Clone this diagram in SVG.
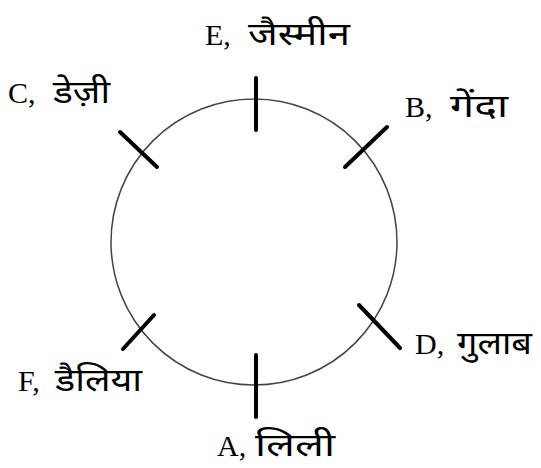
<svg xmlns="http://www.w3.org/2000/svg" width="541" height="468" viewBox="0 0 541 468">
<style>
.lat{font-family:"Liberation Serif","Times New Roman",serif;font-size:30px;fill:#000}
.hi{font-family:"Noto Sans Devanagari","Mangal","Noto Sans","DejaVu Sans",sans-serif;font-size:32px;fill:#000}
.tick{stroke:#000;stroke-width:4;stroke-linecap:round}
</style>
<rect width="541" height="468" fill="#fff"/>
<g id="connectors">
<circle cx="254" cy="242" r="143" fill="none" stroke="#444" stroke-width="1.5"/>
</g>
<g id="E"><line class="tick" x1="256" y1="78" x2="256" y2="130"/><text y="45"><tspan class="lat" x="205">E,</tspan><tspan class="hi" x="248" textLength="102" lengthAdjust="spacingAndGlyphs">जैस्मीन</tspan></text></g>
<g id="C"><line class="tick" x1="120" y1="132" x2="157" y2="167"/><text y="103"><tspan class="lat" x="8">C,</tspan><tspan class="hi" x="53" textLength="57" lengthAdjust="spacingAndGlyphs">डेज़ी</tspan></text></g>
<g id="B"><line class="tick" x1="387" y1="127" x2="345" y2="167"/><text y="117"><tspan class="lat" x="405">B,</tspan><tspan class="hi" x="450" textLength="58" lengthAdjust="spacingAndGlyphs">गेंदा</tspan></text></g>
<g id="F"><line class="tick" x1="154" y1="315" x2="123" y2="349"/><text y="391"><tspan class="lat" x="18">F,</tspan><tspan class="hi" x="55" textLength="87" lengthAdjust="spacingAndGlyphs">डैलिया</tspan></text></g>
<g id="D"><line class="tick" x1="359" y1="305" x2="400" y2="348"/><text y="354"><tspan class="lat" x="415">D,</tspan><tspan class="hi" x="457" textLength="75" lengthAdjust="spacingAndGlyphs">गुलाब</tspan></text></g>
<g id="A"><line class="tick" x1="256" y1="355" x2="256" y2="417"/><text y="456"><tspan class="lat" x="217">A,</tspan><tspan class="hi" x="255" textLength="80" lengthAdjust="spacingAndGlyphs">लिली</tspan></text></g>
</svg>
